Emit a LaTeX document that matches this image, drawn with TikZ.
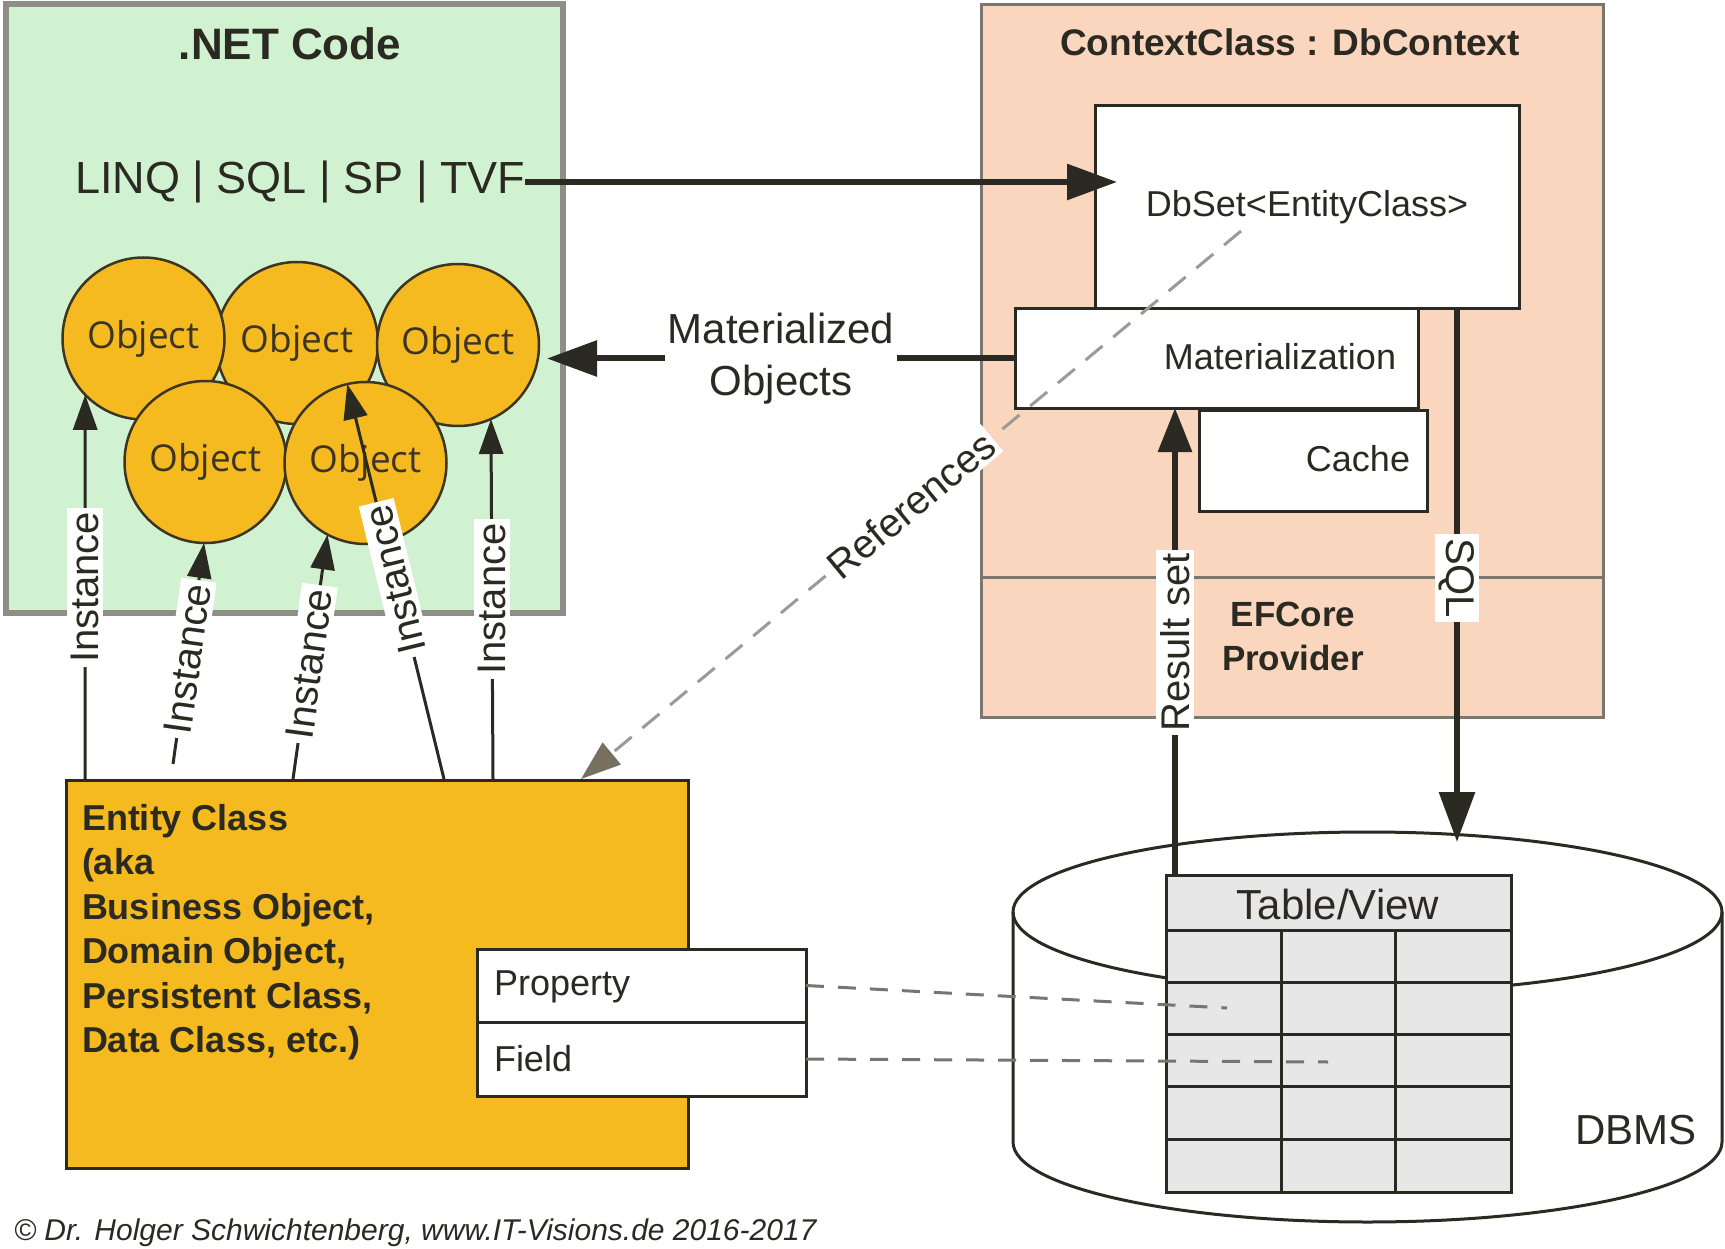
\documentclass[tikz,border=0pt]{standalone}
\usepackage{fontspec}
\setmainfont{Liberation Sans}
\newfontfamily\objfont{Open Sans}
\usetikzlibrary{arrows.meta,calc}
\definecolor{netgreen}{HTML}{D1F2D1}
\definecolor{netborder}{HTML}{8E8E86}
\definecolor{peach}{HTML}{FAD6BE}
\definecolor{peachborder}{HTML}{7A786E}
\definecolor{orangey}{HTML}{F5BA1F}
\definecolor{ink}{HTML}{2B2A22}
\definecolor{objink}{HTML}{3D3524}
\definecolor{tablegray}{HTML}{E7E7E7}
\definecolor{refgray}{HTML}{9B9B95}
\definecolor{refhead}{HTML}{777060}
\definecolor{mapgray}{HTML}{77766C}
\begin{document}
\begin{tikzpicture}[x=1pt,y=-1pt,
  every node/.style={inner sep=0pt,outer sep=0pt,text=ink},
  netbox/.style={draw=netborder,line width=6pt,fill=netgreen,anchor=north west},
  ctxbox/.style={draw=peachborder,line width=3pt,fill=peach,anchor=north west},
  wbox/.style={draw=ink,line width=3pt,fill=white,anchor=north west},
  ebox/.style={draw=ink,line width=3pt,fill=orangey,anchor=north west},
  obj/.style={circle,draw=objink,line width=2.5pt,fill=orangey,minimum size=162pt,
    font=\objfont\fontsize{37}{44}\selectfont,text=objink},
  bigarrow/.style={draw=ink,line width=6pt,-{Triangle[length=50pt,width=35pt]}},
  rsarrow/.style={draw=ink,line width=6pt,-{Triangle[length=44pt,width=33pt]}},
  instarrow/.style={draw=ink,line width=3pt,-{Triangle[length=35pt,width=24pt]}},
  lbl/.style={fill=white,inner sep=4pt,text=ink,font=\fontsize{40}{48}\selectfont},
  refline/.style={draw=refgray,line width=3pt,dash pattern=on 22pt off 14pt,
    -{Triangle[length=40pt,width=28pt,color=refhead]}},
  mapdash/.style={draw=mapgray,line width=3pt,dash pattern=on 18pt off 14pt},
  gridline/.style={draw=ink,line width=3pt},
  cyl/.style={draw=ink,line width=3pt}
]
\useasboundingbox (0,0) rectangle (1725,1249);
\fill[white] (0,0) rectangle (1725,1249);

% .NET Code box
\node[netbox,minimum width=557pt,minimum height=609pt] (net) at (6,4) {};
\node[font=\bfseries\fontsize{44}{52}\selectfont] (nettitle) at (290,44) {.NET Code};
\node[anchor=base west,font=\fontsize{45}{52}\selectfont] (linq) at (75,194) {LINQ | SQL | SP | TVF};

% objects
\node[obj] (c2) at (297,343) {Object};
\node[obj] (c1) at (143.5,338.5) {Object};
\node[obj] (c3) at (458,345) {Object};
\node[obj] (c4) at (205.5,462) {Object};
\node[obj] (c5) at (365.5,463) {Object};

% ContextClass box
\node[ctxbox,minimum width=622pt,minimum height=712pt] (ctx) at (981,5) {};
\draw[draw=peachborder,line width=3pt] (981,577) -- (1603,577);
\node[font=\bfseries\fontsize{37}{44}\selectfont] (ctxtitle) at (1290,42) {ContextClass : DbContext};
\node[anchor=north,align=center,font=\bfseries\fontsize{35}{44}\selectfont] (efcore) at (1293,602) {EFCore\\Provider};

\node[wbox,minimum width=424pt,minimum height=203pt,font=\fontsize{36}{43}\selectfont] (dbset) at (1095,106) {DbSet<EntityClass>};
\node[wbox,minimum width=403pt,minimum height=99pt] (mat) at (1015,309) {};
\node[font=\fontsize{36}{43}\selectfont] (matlbl) at (1280,357) {Materialization};
\node[wbox,minimum width=228pt,minimum height=101pt] (cache) at (1199,410) {};
\node[font=\fontsize{36}{43}\selectfont] (cachelbl) at (1358,459) {Cache};

% Entity class
\node[ebox,minimum width=622pt,minimum height=388pt] (entity) at (66,780) {};
\node[anchor=north west,align=left,font=\bfseries\fontsize{36}{44.5}\selectfont] (etext) at (82,804)
  {Entity Class\\(aka\\Business Object,\\Domain Object,\\Persistent Class,\\Data Class, etc.)};
\node[wbox,minimum width=329pt,minimum height=73pt] (prop) at (477,949) {};
\node[wbox,minimum width=329pt,minimum height=74pt] (field) at (477,1022) {};
\node[anchor=base west,font=\fontsize{36}{43}\selectfont] (proplbl) at (494,995) {Property};
\node[anchor=base west,font=\fontsize{36}{43}\selectfont] (fieldlbl) at (494,1071) {Field};

% DBMS cylinder
\draw[cyl] (1013,912) -- (1013,1142) arc[start angle=180,end angle=360,x radius=354.5pt,y radius=80pt] -- (1722,912);
\draw[cyl] (1367.5,912) ellipse [x radius=354.5pt,y radius=80pt];
\node[draw=ink,line width=3pt,fill=tablegray,anchor=north west,minimum width=345pt,minimum height=317pt] (tbl) at (1166,875) {};
\foreach \yy in {930,982,1034,1086,1139} \draw[gridline] (1166,\yy) -- (1511,\yy);
\foreach \xx in {1281,1395} \draw[gridline] (\xx,930) -- (\xx,1192);
\node[font=\fontsize{42}{50}\selectfont] (tbllbl) at (1338,904) {Table/View};
\node[font=\fontsize{42}{50}\selectfont] (dbms) at (1636,1130) {DBMS};

% coordinates
\coordinate (dbin) at (1117,182);
\coordinate (objin) at (547,358.5);
\coordinate (rs) at (1175,877);
\coordinate (sqlend) at (1457,842);
\coordinate (refs) at (1241,231);
\coordinate (refe) at (581,779);
\coordinate (cellA) at (1227,1008);
\coordinate (cellB) at (1328,1062);
\coordinate (s1) at (85,780);
\coordinate (s2) at (173,764);
\coordinate (s3) at (293,779);
\coordinate (s4) at (444,779);
\coordinate (s5) at (493,779);

% big arrows
\draw[bigarrow] (linq.east |- dbin) -- (dbin);
\draw[bigarrow] (mat.west) -- node[fill=white,align=center,inner sep=3pt,font=\fontsize{42}{52}\selectfont] (matobj) {Materialized\\Objects} (objin);
\draw[rsarrow] (rs) -- node[lbl,pos=0.5,rotate=90] (rslbl) {Result set} (rs |- mat.south);
\draw[bigarrow] (sqlend |- dbset.south) -- node[lbl,pos=0.505,rotate=-90] (sqllbl) {SQL} (sqlend);

% instance arrows
\draw[instarrow] (s1) -- node[lbl,pos=0.5,rotate=90] {Instance} (c1.224);
\draw[instarrow] (s2) -- node[lbl,pos=0.475,rotate=82] {Instance} (c4.269);
\draw[instarrow] (s3) -- node[lbl,pos=0.47,rotate=82.3] {Instance} (c5.242);
\draw[instarrow] (s4) -- node[lbl,pos=0.505,rotate=103.8] {Instance} (c5.103);
\draw[instarrow] (s5) -- node[lbl,pos=0.5,rotate=90] {Instance} (c3.294);

% references
\draw[refline] (refs) -- node[sloped,fill=white,inner sep=3pt,font=\fontsize{40}{48}\selectfont] (reflbl) {References} (refe);

% mapping
\draw[mapdash] (prop.east) -- (cellA);
\draw[mapdash] (field.east) -- (cellB);

% copyright
\node[anchor=base west,font=\itshape\fontsize{30}{34}\selectfont,text=ink] (copy) at (14,1240) {© Dr. Holger Schwichtenberg, www.IT-Visions.de 2016-2017};
\end{tikzpicture}
\end{document}
